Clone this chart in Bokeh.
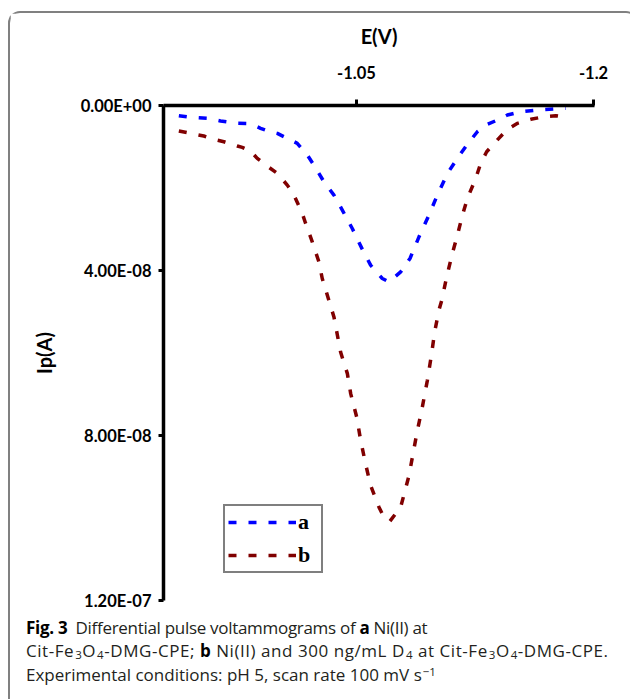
from bokeh.plotting import figure
from bokeh.models import (Range1d, FixedTicker, CustomJSTickFormatter, Legend, LegendItem,
                          Div, InlineStyleSheet)
from bokeh.layouts import column
from bokeh.embed import file_html
from bokeh.resources import INLINE

# ---- data (E in V, Ip in units of 1e-8 A) ----
E_a = [-0.9377, -0.9451, -0.9557, -0.9641, -0.9747, -0.9831, -0.9894, -0.9936, -1.0000,
       -1.0084, -1.0126, -1.0190, -1.0231, -1.0295, -1.0358, -1.0411, -1.0474, -1.0538,
       -1.0590, -1.0664, -1.0706, -1.0780, -1.0839, -1.0896, -1.0959, -1.1012, -1.1076,
       -1.1145, -1.1202, -1.1265, -1.1329, -1.1392, -1.1455, -1.1540, -1.1645, -1.1750,
       -1.1824]
Ip_a_e8 = [0.248, 0.286, 0.311, 0.376, 0.432, 0.442, 0.553, 0.612, 0.675,
           0.837, 0.917, 1.201, 1.444, 1.850, 2.172, 2.536, 2.981, 3.490,
           3.871, 4.194, 4.277, 4.034, 3.709, 3.184, 2.658, 2.172, 1.646,
           1.243, 0.942, 0.636, 0.456, 0.352, 0.231, 0.150, 0.109, 0.085,
           0.068]

E_b = [-0.9377, -0.9451, -0.9535, -0.9598, -0.9662, -0.9747, -0.9778, -0.9831, -0.9873,
       -0.9936, -1.0000, -1.0063, -1.0105, -1.0158, -1.0179, -1.0221, -1.0263, -1.0284,
       -1.0326, -1.0358, -1.0400, -1.0443, -1.0464, -1.0502, -1.0527, -1.0558, -1.0590,
       -1.0643, -1.0674, -1.0712, -1.0780, -1.0833, -1.0860, -1.0886, -1.0917, -1.0949,
       -1.0976, -1.0995, -1.1022, -1.1040, -1.1071, -1.1107, -1.1139, -1.1171, -1.1202,
       -1.1255, -1.1286, -1.1324, -1.1381, -1.1455, -1.1519, -1.1603, -1.1687, -1.1761,
       -1.1824]
Ip_b_e8 = [0.619, 0.675, 0.740, 0.820, 0.879, 0.983, 1.015, 1.104, 1.282,
           1.468, 1.646, 1.930, 2.172, 2.617, 2.859, 3.306, 3.791, 4.194,
           4.721, 5.126, 5.976, 6.500, 6.985, 7.553, 8.119, 8.685, 9.211,
           9.738, 9.981, 10.078, 9.738, 8.968, 8.403, 7.876, 7.311, 6.663,
           6.015, 5.490, 4.964, 4.721, 4.155, 3.587, 3.143, 2.658, 2.252,
           1.767, 1.403, 1.121, 0.879, 0.578, 0.432, 0.335, 0.272, 0.248,
           0.286]

Ip_a = [v * 1e-8 for v in Ip_a_e8]
Ip_b = [v * 1e-8 for v in Ip_b_e8]

x_ticks = [-1.05, -1.2]
y_ticks = [0, 4e-8, 8e-8, 1.2e-7]
series_labels = ["a", "b"]
series_colors = ["#0000FF", "#800000"]

# ---- figure ----
p = figure(frame_width=431, frame_height=495,
           min_border_left=153, min_border_right=32, min_border_top=92, min_border_bottom=15,
           x_range=Range1d(-0.928, -1.2006), y_range=Range1d(1.2e-7, 0),
           x_axis_location="above", output_backend="svg", toolbar_location=None, tools="")
p.outline_line_color = None
p.grid.visible = False
p.background_fill_color = "white"
p.border_fill_color = "white"

xa = p.xaxis[0]
xa.ticker = FixedTicker(ticks=x_ticks)
xa.formatter = CustomJSTickFormatter(code="return (Math.round(tick*100)/100).toString();")
xa.axis_label = "E(V)"
ya = p.yaxis[0]
ya.ticker = FixedTicker(ticks=y_ticks)
ya.formatter = CustomJSTickFormatter(code="""
const parts = tick.toExponential(2).split('e');
let e = parseInt(parts[1]);
const sign = e < 0 ? '-' : '+';
e = Math.abs(e);
return parts[0] + 'E' + sign + (e < 10 ? '0' : '') + e;
""")
ya.axis_label = "Ip(A)"

for ax in (xa, ya):
    ax.axis_line_width = 3.5
    ax.axis_line_color = "black"
    ax.major_tick_line_width = 3
    ax.major_tick_line_color = "black"
    ax.major_tick_in = 0
    ax.minor_tick_line_color = None
    ax.major_label_text_font = "Lato"
    ax.major_label_text_font_style = "bold"
    ax.major_label_text_font_size = "16.5px"
    ax.major_label_text_color = "black"
    ax.axis_label_text_font = "Lato"
    ax.axis_label_text_font_style = "bold"
    ax.axis_label_text_font_size = "20px"
    ax.axis_label_text_color = "black"

xa.major_tick_out = 6
xa.major_label_standoff = 21
xa.axis_label_standoff = 15
ya.major_tick_out = 5
ya.major_label_standoff = 7
ya.axis_label_standoff = 22

ra = p.line(E_a, Ip_a, line_color=series_colors[0], line_width=3.5, line_dash="8 12")
rb = p.line(E_b, Ip_b, line_color=series_colors[1], line_width=3.5, line_dash="8 12")

legend = Legend(items=[LegendItem(label=series_labels[0], renderers=[ra]),
                       LegendItem(label=series_labels[1], renderers=[rb])],
                location=(60, 27), orientation="vertical",
                border_line_color="black", border_line_width=2,
                background_fill_color="white", background_fill_alpha=1.0,
                padding=3, spacing=7, margin=0,
                glyph_width=68, glyph_height=22, label_height=22, label_standoff=2,
                label_text_font="Liberation Serif", label_text_font_style="bold",
                label_text_font_size="22px", label_text_color="black")
p.add_layout(legend)

caption_html = (
    '<div style="margin-left:11px; margin-top:-3px;">'
    '<span style="letter-spacing:-0.3px">'
    '<b style="color:#000">Fig.&nbsp;3</b>&nbsp;&nbsp;Differential pulse voltammograms of <b style="color:#000">a</b> Ni(II) at'
    '</span><br>'
    '<span style="letter-spacing:0.55px">'
    'Cit-Fe<sub>3</sub>O<sub>4</sub>-DMG-CPE; <b style="color:#000">b</b> Ni(II) and 300 ng/mL D<sub>4</sub> at '
    'Cit-Fe<sub>3</sub>O<sub>4</sub>-DMG-CPE.</span><br>'
    'Experimental conditions: pH 5, scan rate 100 mV s<sup>\u22121</sup>'
    '</div>'
)
cap = Div(text=caption_html, width=616, height=82,
          styles={"font-family": "Open Sans", "font-size": "17px", "line-height": "22.5px",
                  "color": "#231f20"},
          stylesheets=[InlineStyleSheet(css=(
              "sub { font-size: 68%; vertical-align: baseline; position: relative; top: 0.2em; margin-left: 1px; }"
              "sup { font-size: 68%; vertical-align: baseline; position: relative; top: -0.45em; margin-left: 1px; }"))])

layout = column(p, cap, spacing=0,
                styles={"border": "2px solid #808080", "border-bottom": "none",
                        "border-radius": "12px 12px 0 0", "margin": "11px 2px 0 8px",
                        "background": "white"})

open("out.html", "w").write(file_html(layout, INLINE))
